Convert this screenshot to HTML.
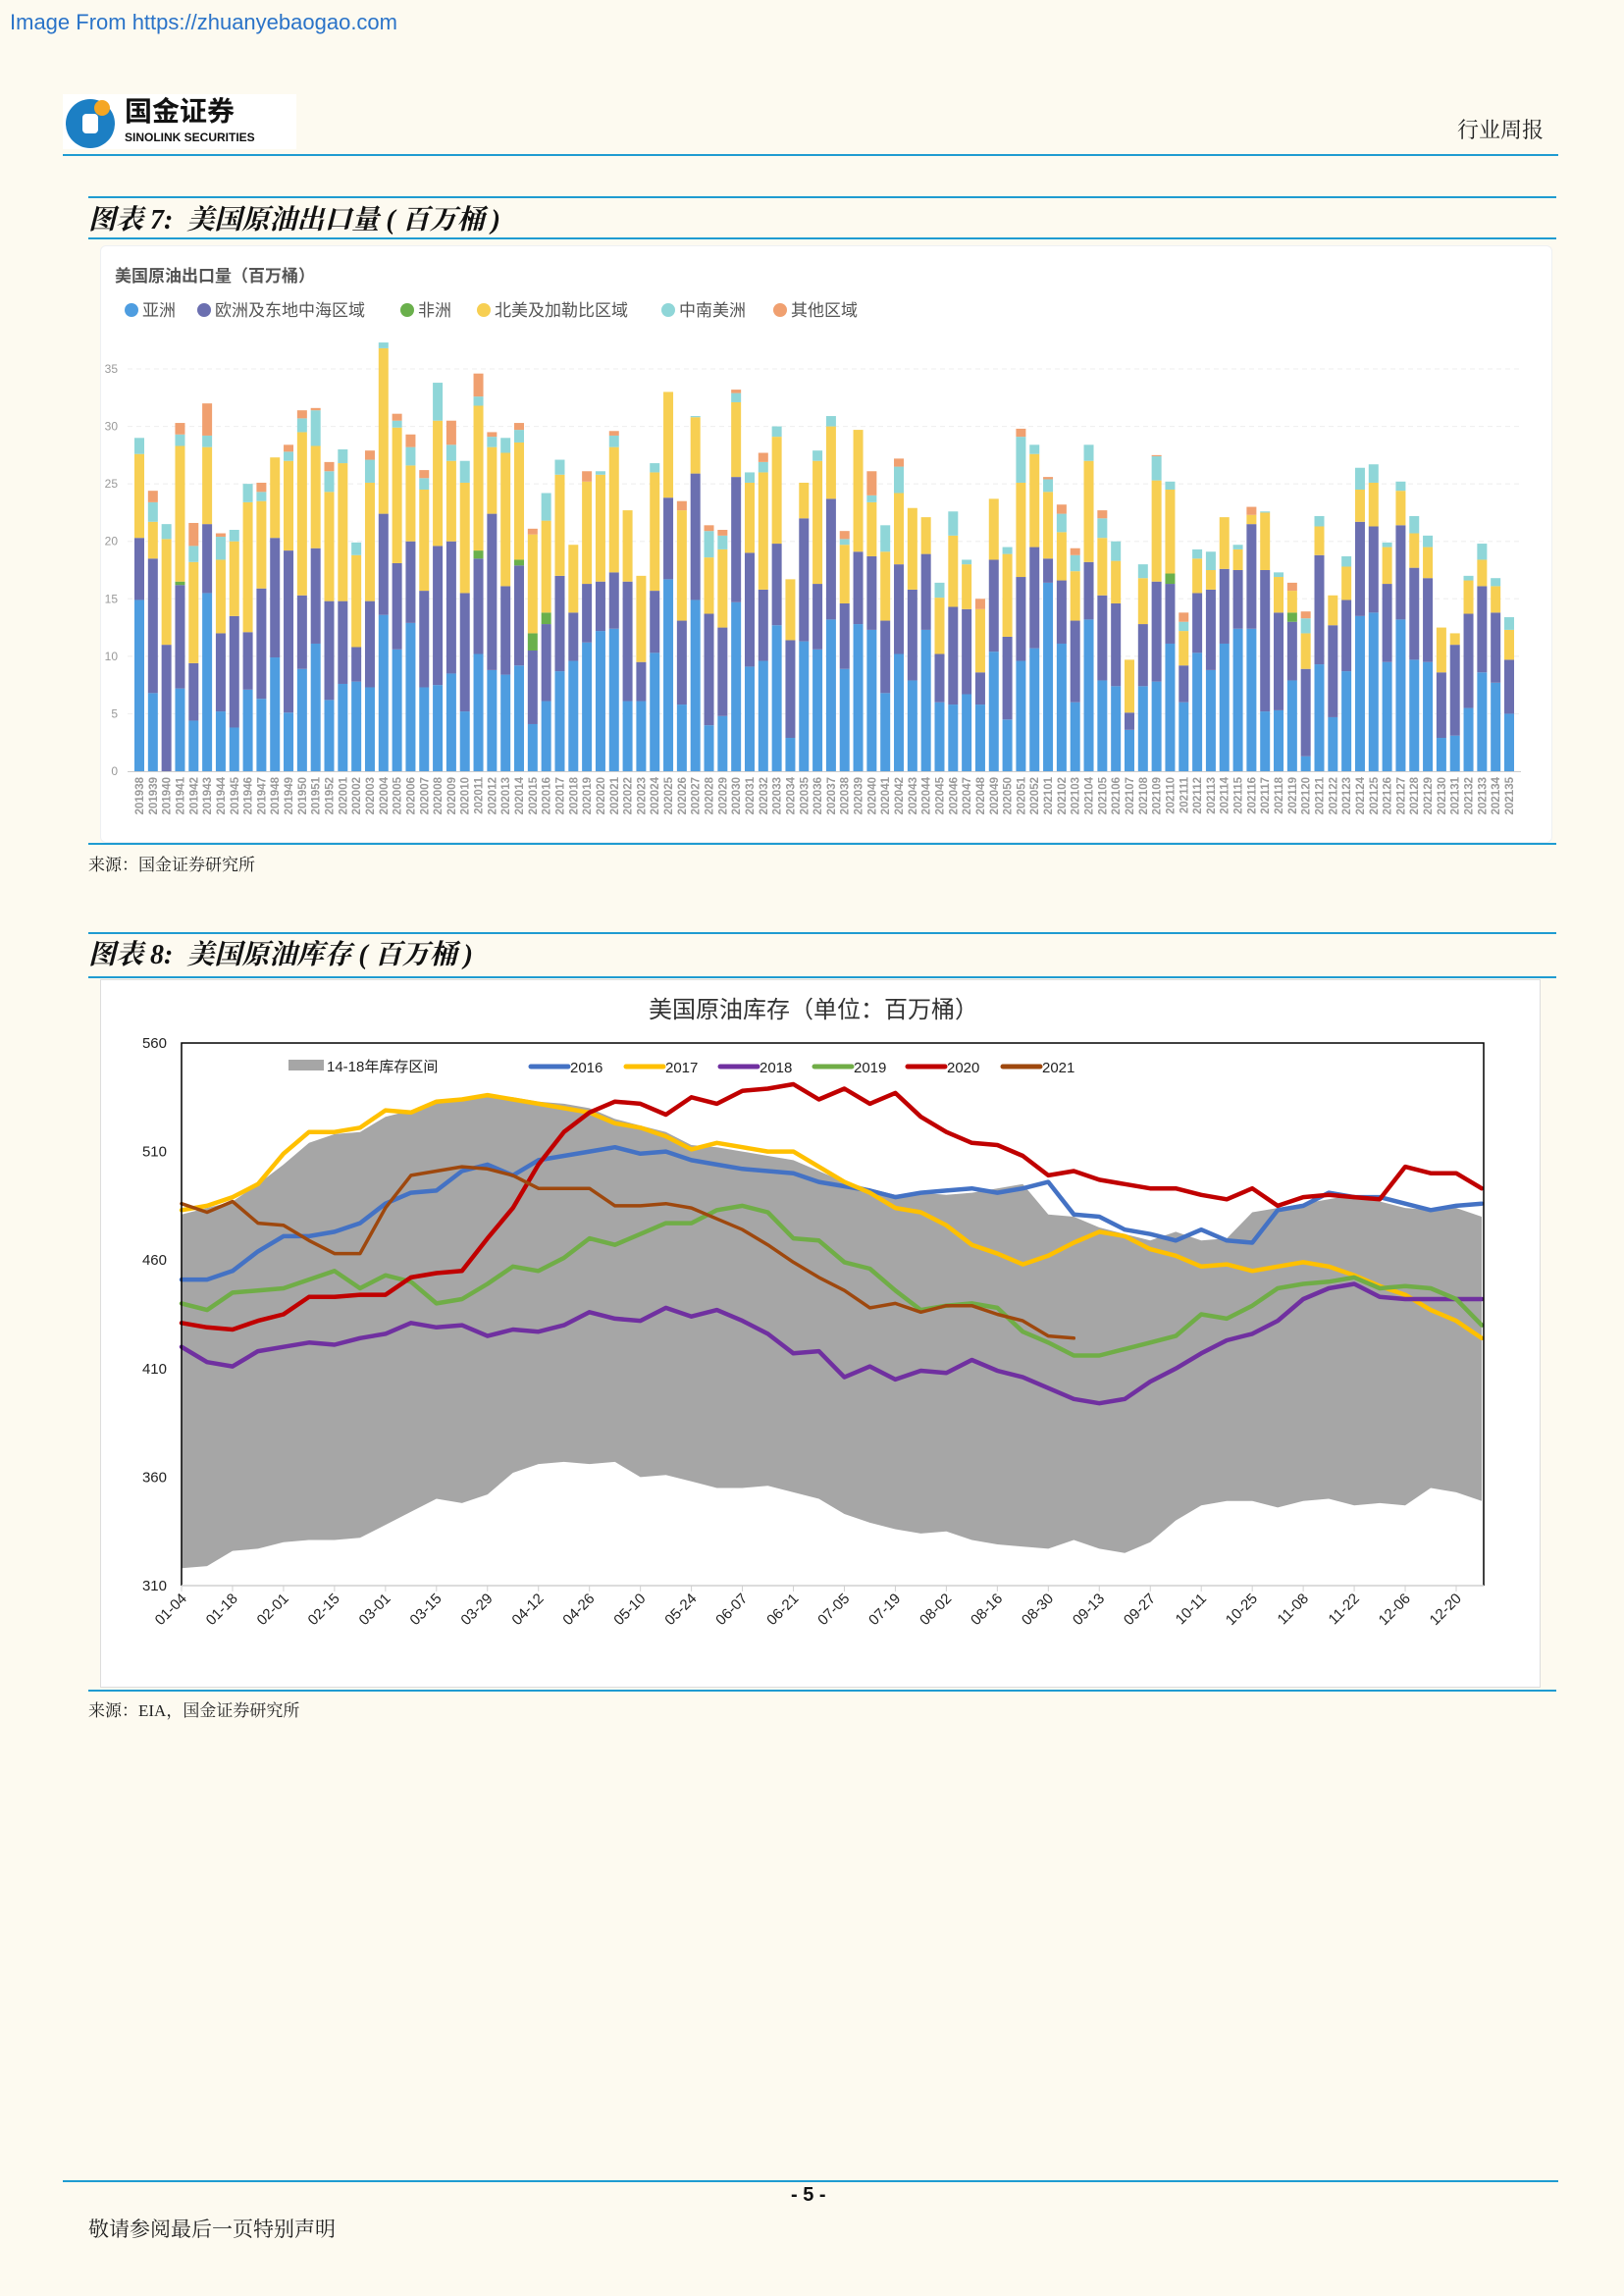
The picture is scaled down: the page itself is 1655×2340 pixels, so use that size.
<!DOCTYPE html>
<html><head><meta charset="utf-8">
<style>
body{margin:0;background:#fdfaf0;}
#page{position:relative;width:1655px;height:2340px;overflow:hidden;background:#fdfaf0;font-family:"Liberation Sans","Noto Sans CJK SC",sans-serif;}
.abs{position:absolute;white-space:nowrap;}
.hl{position:absolute;height:2px;background:#1f9bd1;}
.ftitle{font-family:"Liberation Serif","Noto Serif CJK SC",serif;font-style:italic;font-weight:bold;font-size:28px;color:#111;}
.src{font-family:"Liberation Serif","Noto Serif CJK SC",serif;font-size:17px;color:#222;}
</style></head>
<body>
<div id="page">
  <div class="abs" style="left:10px;top:10px;font-size:22px;color:#2a73c8;">Image From https://zhuanyebaogao.com</div>

  <div class="abs" style="left:64px;top:96px;width:238px;height:56px;background:#fff;">
    <svg width="60" height="56" style="position:absolute;left:0;top:0">
      <circle cx="28" cy="30" r="25" fill="#1c7fc4"/>
      <rect x="20" y="20" width="16" height="20" rx="4" fill="#fff"/>
      <circle cx="40" cy="14" r="8" fill="#f5a623"/>
    </svg>
    <div class="abs" style="left:63px;top:2px;font-size:28px;line-height:32px;font-weight:bold;color:#111;">国金证券</div>
    <div class="abs" style="left:63px;top:37px;font-size:12px;line-height:14px;font-weight:bold;color:#111;">SINOLINK SECURITIES</div>
  </div>
  <div class="abs" style="right:82px;top:116px;font-size:22px;font-family:'Liberation Serif','Noto Serif CJK SC',serif;color:#222;">行业周报</div>
  <div class="hl" style="left:64px;width:1524px;top:157px;"></div>

  <div class="hl" style="left:90px;width:1496px;top:200px;"></div>
  <div class="abs ftitle" style="left:90px;top:202px;">图表 7:&nbsp; 美国原油出口量 ( 百万桶 )</div>
  <div class="hl" style="left:90px;width:1496px;top:242px;"></div>

  <div class="abs" style="left:102px;top:250px;width:1478px;height:607px;background:#fff;border:1px solid #eef0f2;border-radius:6px;"></div>
  <svg id="c1" class="abs" style="left:0;top:0" width="1655" height="870"></svg>
  <div class="hl" style="left:90px;width:1496px;top:859px;"></div>
  <div class="abs src" style="left:90px;top:867px;">来源：国金证券研究所</div>

  <div class="hl" style="left:90px;width:1496px;top:950px;"></div>
  <div class="abs ftitle" style="left:90px;top:951px;">图表 8:&nbsp; 美国原油库存 ( 百万桶 )</div>
  <div class="hl" style="left:90px;width:1496px;top:995px;"></div>
  <div class="abs" style="left:102px;top:998px;width:1466px;height:720px;background:#fff;border:1px solid #ddd;"></div>
  <svg id="c2" class="abs" style="left:0;top:0" width="1655" height="1730"></svg>
  <div class="hl" style="left:90px;width:1496px;top:1722px;"></div>
  <div class="abs src" style="left:90px;top:1729px;">来源：EIA，国金证券研究所</div>

  <div class="hl" style="left:64px;width:1524px;top:2222px;"></div>
  <div class="abs" style="left:806px;top:2226px;font-size:20px;font-weight:bold;color:#111;">- 5 -</div>
  <div class="abs src" style="left:90px;top:2256px;font-size:21px;">敬请参阅最后一页特别声明</div>
</div>

<script>
// ---------- Chart 1 data ----------
const weeks = ["201938","201939","201940","201941","201942","201943","201944","201945","201946","201947","201948","201949","201950","201951","201952",
"202001","202002","202003","202004","202005","202006","202007","202008","202009","202010","202011","202012","202013","202014","202015","202016","202017","202018","202019","202020","202021","202022","202023","202024","202025","202026","202027","202028","202029","202030","202031","202032","202033","202034","202035","202036","202037","202038","202039","202040","202041","202042","202043","202044","202045","202046","202047","202048","202049","202050","202051","202052",
"202101","202102","202103","202104","202105","202106","202107","202108","202109","202110","202111","202112","202113","202114","202115","202116","202117","202118","202119","202120","202121","202122","202123","202124","202125","202126","202127","202128","202129","202130","202131","202132","202133","202134","202135"];
const asia = [14.9,6.8,0,7.2,4.4,15.5,5.2,3.8,7.1,6.3,9.9,5.1,8.9,11.1,6.2,7.6,7.8,7.3,13.6,10.6,12.9,7.3,7.5,8.5,5.2,10.2,8.8,8.4,9.2,4.1,6.1,8.7,9.6,11.2,12.2,12.4,6.1,6.1,10.3,16.7,5.8,14.9,4.0,4.8,14.7,9.1,9.6,12.7,2.9,11.3,10.6,13.2,8.9,12.8,12.3,6.8,10.2,7.9,12.3,6.0,5.8,6.7,5.8,10.4,4.5,9.6,10.7,16.4,11.1,6.0,13.2,7.9,7.4,3.6,7.4,7.8,11.1,6.0,10.3,8.8,11.1,12.4,12.4,5.2,5.3,7.9,1.3,9.3,4.7,8.7,13.5,13.8,9.5,13.2,9.7,9.5,2.9,3.1,5.5,8.6,7.7,5.0];
const europe = [5.4,11.7,11.0,9.0,5.0,6.0,6.8,9.7,5.0,9.6,10.4,14.1,6.4,8.3,8.6,7.2,3.0,7.5,8.8,7.5,7.1,8.4,12.1,11.5,10.3,8.3,13.6,7.7,8.7,6.4,6.7,8.3,4.2,5.1,4.3,4.9,10.4,3.4,5.4,7.1,7.3,11.0,9.7,7.7,10.9,9.9,6.2,7.1,8.5,10.7,5.7,10.5,5.7,6.3,6.4,6.3,7.8,7.9,6.6,4.2,8.5,7.4,2.8,8.0,7.2,7.3,8.8,2.1,5.5,7.1,5.0,7.4,7.2,1.5,5.4,8.7,5.2,3.2,5.2,7.0,6.5,5.1,9.1,12.3,8.5,5.1,7.6,9.5,8.0,6.2,8.2,7.5,6.8,8.2,8.0,7.3,5.7,7.9,8.2,7.5,6.1,4.7];
const africa = [0,0,0,0.3,0,0,0,0,0,0,0,0,0,0,0,0,0,0,0,0,0,0,0,0,0,0.7,0,0,0.5,1.5,1.0,0,0,0,0,0,0,0,0,0,0,0,0,0,0,0,0,0,0,0,0,0,0,0,0,0,0,0,0,0,0,0,0,0,0,0,0,0,0,0,0,0,0,0,0,0,0.9,0,0,0,0,0,0,0,0,0.8,0,0,0,0,0,0,0,0,0,0,0,0,0,0,0,0];
const namerica = [7.3,3.2,9.2,11.8,8.8,6.7,6.4,6.5,11.3,7.6,7.0,7.8,14.2,8.9,9.5,12.0,8.0,10.3,14.4,11.8,6.6,8.8,10.9,7.0,9.6,12.6,5.8,11.6,10.2,8.6,8.0,8.8,5.9,8.9,9.3,10.9,6.2,7.5,10.3,9.2,9.6,4.9,4.9,6.8,6.5,6.1,10.2,9.3,5.3,3.1,10.7,6.3,5.1,10.6,4.7,6.0,6.2,7.1,3.2,4.9,6.2,3.9,5.5,5.3,7.2,8.2,8.1,5.8,4.2,4.3,8.8,5.0,3.7,4.6,4.0,8.8,7.3,3.0,3.0,1.7,4.5,1.8,0.8,5.0,3.1,1.9,3.1,2.5,2.6,2.9,2.8,3.8,3.2,3.0,3.0,2.7,3.9,1.0,2.9,2.3,2.3,2.6];
const samerica = [1.4,1.7,1.3,1.0,1.4,1.0,2.0,1.0,1.6,0.8,0,0.8,1.2,3.1,1.8,1.2,1.1,2.0,0.5,0.6,1.6,1.0,3.3,1.4,1.9,0.8,0.9,1.3,1.1,0,2.4,1.3,0,0,0.3,1.0,0,0,0.8,0,0,0.1,2.3,1.2,0.8,0.9,0.9,0.9,0,0,0.9,0.9,0.5,0,0.6,2.3,2.3,0,0,1.3,2.1,0.4,0,0,0.6,4.0,0.8,1.1,1.6,1.4,1.4,1.7,1.7,0,1.2,2.1,0.7,0.8,0.8,1.6,0,0.4,0,0.1,0.4,0,1.3,0.9,0,0.9,1.9,1.6,0.4,0.8,1.5,1.0,0,0,0.4,1.4,0.7,1.1];
const other = [0,1.0,0,1.0,2.0,2.8,0.3,0,0,0.8,0,0.6,0.7,0.2,0.8,0,0,0.8,0,0.6,1.1,0.7,0,2.1,0,2.0,0.4,0,0.6,0.5,0,0,0,0.9,0,0.4,0,0,0,0,0.8,0,0.5,0.5,0.3,0,0.8,0,0,0,0,0,0.7,0,2.1,0,0.7,0,0,0,0,0,0.9,0,0,0.7,0,0.2,0.8,0.6,0,0.7,0,0,0,0.1,0,0.8,0,0,0,0,0.7,0,0,0.7,0.6,0,0,0,0,0,0,0,0,0,0,0,0,0,0,0];
const yTicks1 = [0,5,10,15,20,25,30,35];
const seriesNames1 = ["亚洲","欧洲及东地中海区域","非洲","北美及加勒比区域","中南美洲","其他区域"];

// ---------- Chart 2 data ----------
const dateLabels = ["01-04","01-18","02-01","02-15","03-01","03-15","03-29","04-12","04-26","05-10","05-24","06-07","06-21","07-05","07-19","08-02","08-16","08-30","09-13","09-27","10-11","10-25","11-08","11-22","12-06","12-20"];
const bandHigh = [481,484,487,495,504,514,518,519,526,529,533,534,535,535,533,532,530,525,522,519,513,512,510,508,506,501,496,493,490,491,490,491,493,495,481,480,475,472,469,473,469,470,482,484,486,488,490,487,484,483,484,480];
const bandLow = [318,319,326,327,330,331,331,332,338,344,350,348,352,362,366,367,366,367,360,361,358,355,355,356,353,350,343,339,336,334,335,331,329,328,327,331,327,325,330,340,347,349,349,346,349,350,347,348,347,355,353,349];
const s2016 = [451,451,455,464,471,471,473,477,486,491,492,501,504,499,506,508,510,512,509,510,506,504,502,501,500,496,494,492,489,491,492,493,491,493,496,481,480,474,472,469,474,469,468,483,485,491,489,489,486,483,485,486];
const s2017 = [483,485,489,495,509,519,519,521,529,528,533,534,536,534,532,530,528,523,521,517,511,514,512,510,510,503,496,491,484,482,476,467,463,458,462,468,473,471,465,462,457,458,455,457,459,457,453,448,444,437,432,424];
const s2018 = [420,413,411,418,420,422,421,424,426,431,429,430,425,428,427,430,436,433,432,438,434,437,432,426,417,418,406,411,405,409,408,414,409,406,401,396,394,396,404,410,417,423,426,432,442,447,449,443,442,442,442,442];
const s2019 = [440,437,445,446,447,451,455,447,453,450,440,442,449,457,455,461,470,467,472,477,477,483,485,482,470,469,459,456,446,437,439,440,438,427,422,416,416,419,422,425,435,433,439,447,449,450,452,447,448,447,442,430];
const s2020 = [431,429,428,432,435,443,443,444,444,452,454,455,470,484,504,519,528,533,532,527,535,532,538,539,541,534,539,532,537,526,519,514,513,508,499,501,497,495,493,493,490,488,493,485,489,490,489,488,503,500,500,493];
const s2021 = [486,482,487,477,476,469,463,463,484,499,501,503,502,499,493,493,493,485,485,486,484,479,474,467,459,452,446,438,440,436,439,439,435,432,425,424];
const yTicks2 = [310,360,410,460,510,560];

const NS = "http://www.w3.org/2000/svg";
function mk(parent, tag, attrs, txt){
  const e = document.createElementNS(NS, tag);
  for (const k in attrs) e.setAttribute(k, attrs[k]);
  if (txt !== undefined) e.textContent = txt;
  parent.appendChild(e);
  return e;
}

// ---------- Draw chart 1 ----------
(function(){
  const svg = document.getElementById('c1');
  const x0 = 142, step = (1538 - 142) / (weeks.length - 1), bw = 10;
  const yBase = 786, pxPer = (786 - 376) / 35;
  const xs = i => x0 + i * step;
  const ys = v => yBase - v * pxPer;
  const colors = ["#4e9de0","#6b6fb0","#6ab04c","#f7cf52","#8fd6d8","#f0a070"];
  const series = [asia, europe, africa, namerica, samerica, other];

  const t = mk(svg,'text',{x:117,y:287,'font-size':17,fill:'#555','font-weight':'bold','font-family':'Liberation Sans, Noto Sans CJK SC, sans-serif'},'美国原油出口量（百万桶）');
  
  

  // legend
  const legX = [128, 202, 409, 487, 675, 789];
  seriesNames1.forEach((n, k) => {
    const g = mk(svg,'g',{});
    
    
    mk(g,'circle',{cx:legX[k]+6,cy:316,r:7,fill:colors[k]});
    mk(g,'text',{x:legX[k]+17,y:322,'font-size':17,fill:'#555','font-family':'Liberation Sans, Noto Sans CJK SC, sans-serif'},n);
  });

  // grid + y ticks
  yTicks1.forEach(v => {
    if (v > 0) {
      const gl = mk(svg,'line',{x1:130,x2:1550,y1:ys(v),y2:ys(v),stroke:'#eeeeee','stroke-dasharray':'5,4'});
      
      
    }
    const tl = mk(svg,'text',{x:120,y:ys(v)+4,'font-size':12,fill:'#999','text-anchor':'end','font-family':'Liberation Sans, sans-serif'},String(v));
    
    
  });
  const ax = mk(svg,'line',{x1:130,x2:1550,y1:yBase+0.5,y2:yBase+0.5,stroke:'#ccc'});
  
  

  weeks.forEach((w, i) => {
    let cum = 0;
    series.forEach((s, k) => {
      const v = s[i];
      if (v > 0) {
        const r = mk(svg,'rect',{x:xs(i)-bw/2,y:ys(cum+v),width:bw,height:v*pxPer,fill:colors[k]});
        
        
      }
      cum += v;
    });
    const lbl = mk(svg,'text',{x:0,y:0,'font-size':11.5,fill:'#999','font-weight':'bold','text-anchor':'end',
      transform:'translate(' + (xs(i)+4) + ',792) rotate(-90)','font-family':'Liberation Sans, sans-serif'},w);
    
    
  });
})();

// ---------- Draw chart 2 ----------
(function(){
  const svg = document.getElementById('c2');
  const L = 185, R = 1512, T = 1063, B = 1616;
  const step = (1484 - 185) / 50;
  const xs = i => L + i * step;
  const ys = v => B - (v - 310) / 250 * (B - T);
  const ff = 'Liberation Sans, Noto Sans CJK SC, sans-serif';

  const title = mk(svg,'text',{x:829,y:1037,'font-size':24,fill:'#333','text-anchor':'middle','font-family':ff},'美国原油库存（单位：百万桶）');
  
  

  let d = '';
  bandHigh.forEach((v,i) => { d += (i ? 'L' : 'M') + xs(i).toFixed(1) + ',' + ys(v).toFixed(1); });
  for (let i = bandLow.length - 1; i >= 0; i--) d += 'L' + xs(i).toFixed(1) + ',' + ys(bandLow[i]).toFixed(1);
  const band = mk(svg,'path',{d:d + 'Z',fill:'#a6a6a6'});
  
  

  const lines = [[s2016,'#4472c4','2016'],[s2017,'#ffc000','2017'],[s2018,'#7030a0','2018'],[s2019,'#70ad47','2019'],[s2020,'#c00000','2020'],[s2021,'#9e480e','2021']];
  lines.forEach(([s, c, n]) => {
    const w = n === '2021' ? 3.5 : 4.5;
    const pts = s.map((v,i) => xs(i).toFixed(1) + ',' + ys(v).toFixed(1)).join(' ');
    const pl = mk(svg,'polyline',{points:pts,fill:'none',stroke:c,'stroke-width':w,'stroke-linejoin':'round','stroke-linecap':'round'});
    
    
  });

  const fr = mk(svg,'path',{d:'M'+L+','+B+'V'+T+'H'+R+'V'+B,fill:'none',stroke:'#000','stroke-width':1.5});
  
  
  const xa = mk(svg,'line',{x1:L,x2:R,y1:B,y2:B,stroke:'#d0d0d0','stroke-width':1.5});
  
  

  yTicks2.forEach(v => {
    const tl = mk(svg,'text',{x:170,y:ys(v)+5,'font-size':15,fill:'#222','text-anchor':'end','font-family':ff},String(v));
    
    
  });
  dateLabels.forEach((lab, j) => {
    const x = xs(j * 2);
    mk(svg,'line',{x1:x,x2:x,y1:B,y2:B+6,stroke:'#d0d0d0'});
    const tl = mk(svg,'text',{x:0,y:0,'font-size':15,fill:'#222','text-anchor':'end',
      transform:'translate(' + (x+6) + ',' + (B+14) + ') rotate(-45)','font-family':ff},lab);
    
    
  });

  const lg = mk(svg,'g',{});
  
  
  const bandKey = mk(lg,'rect',{x:294,y:1080,width:36,height:11,fill:'#a6a6a6'});
  
  
  mk(lg,'text',{x:333,y:1092,'font-size':15,fill:'#222','font-family':ff},'14-18年库存区间');
  const lx = [541, 638, 734, 830, 925, 1022];
  lines.forEach(([s, c, n], k) => {
    const sw = mk(lg,'line',{x1:lx[k],x2:lx[k]+38,y1:1087,y2:1087,stroke:c,'stroke-width':5,'stroke-linecap':'round'});
    
    
    mk(lg,'text',{x:lx[k]+40,y:1093,'font-size':15,fill:'#222','font-family':ff},n);
  });
})();
</script>
</body></html>
